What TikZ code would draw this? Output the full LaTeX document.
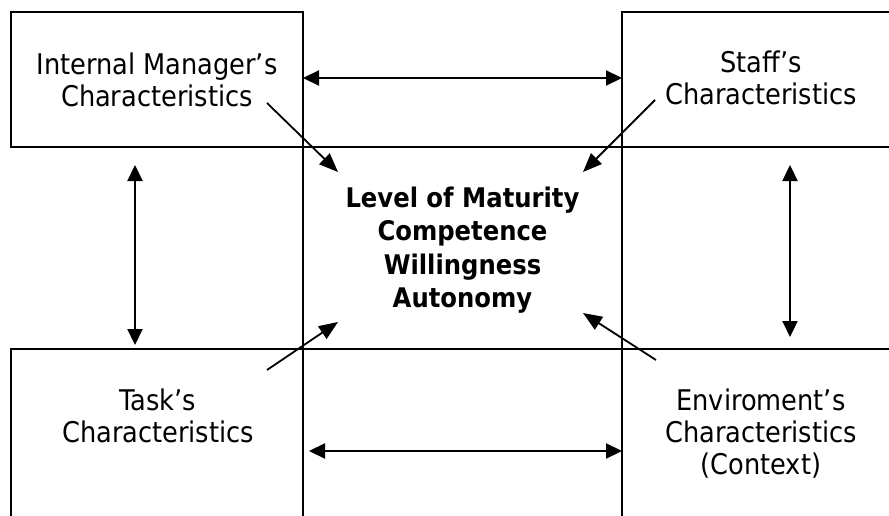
\documentclass[tikz,border=0pt]{standalone}
\usepackage{fontspec}
\setmainfont{DejaVu Sans Condensed}
\usetikzlibrary{arrows.meta}

\tikzset{
  cell/.style={draw, line width=2.2pt, inner sep=0pt, outer sep=0pt},
  lbl/.style={align=center, anchor=north, inner sep=0pt, font=\fontsize{28.5}{32}\selectfont},
  core/.style={align=center, anchor=north, inner sep=0pt, font=\fontsize{27}{33.5}\selectfont\bfseries},
  link/.style={line width=2.2pt, {Triangle[length=16pt,width=15pt]}-{Triangle[length=16pt,width=15pt]}},
  feed/.style={line width=1.8pt, -{Triangle[length=19pt,width=15pt]}},
}

\begin{document}
\begin{tikzpicture}[x=1pt,y=-1pt]
    \useasboundingbox (0,0) rectangle (889,516);
    \clip (0,0) rectangle (889,516);

    % the five boxes
    \node[cell, minimum width=292pt, minimum height=135pt] (tl) at (157,79.5) {};
    \node[cell, minimum width=278pt, minimum height=135pt] (tr) at (761,79.5) {};
    \node[cell, minimum width=319pt, minimum height=202pt] (mid) at (462.5,248) {};
    \node[cell, minimum width=292pt, minimum height=200pt] (bl) at (157,449) {};
    \node[cell, minimum width=278pt, minimum height=200pt] (br) at (761,449) {};

    % texts
    \node[lbl] (imc) at (157,53) {Internal Manager’s\\Characteristics};
    \node[lbl] (staff) at (761,51) {Staff’s\\Characteristics};
    \node[core] (lvl) at (462.5,186.5) {Level of Maturity\\Competence\\Willingness\\Autonomy};
    \node[lbl] (task) at (158,389) {Task’s\\Characteristics};
    \node[lbl] (env) at (761,389) {Enviroment’s\\Characteristics\\(Context)};

    % arrow ends
    \coordinate (lf1) at (135,165);
    \coordinate (lf2) at (135,345);
    \coordinate (rt1) at (790,165);
    \coordinate (rt2) at (790,337);
    \coordinate (bt1) at (309,451);
    \coordinate (bt2) at (622,451);
    \coordinate (in1) at (338,172);
    \coordinate (in2) at (583,172);
    \coordinate (in3) at (338,322);
    \coordinate (in4) at (583,313);
    \coordinate (out1) at (267,103);
    \coordinate (out2) at (655,100);
    \coordinate (out3) at (267,370);
    \coordinate (out4) at (656,360);

    % double arrows between the boxes
    \draw[link] (tl.east |- 0,78) -- (tr.west |- 0,78);
    \draw[link] (bt1) -- (bt2);
    \draw[link] (lf1) -- (lf2);
    \draw[link] (rt1) -- (rt2);

    % arrows into the middle
    \draw[feed] (out1) -- (in1);
    \draw[feed] (out2) -- (in2);
    \draw[feed] (out3) -- (in3);
    \draw[feed] (out4) -- (in4);
\end{tikzpicture}
\end{document}
